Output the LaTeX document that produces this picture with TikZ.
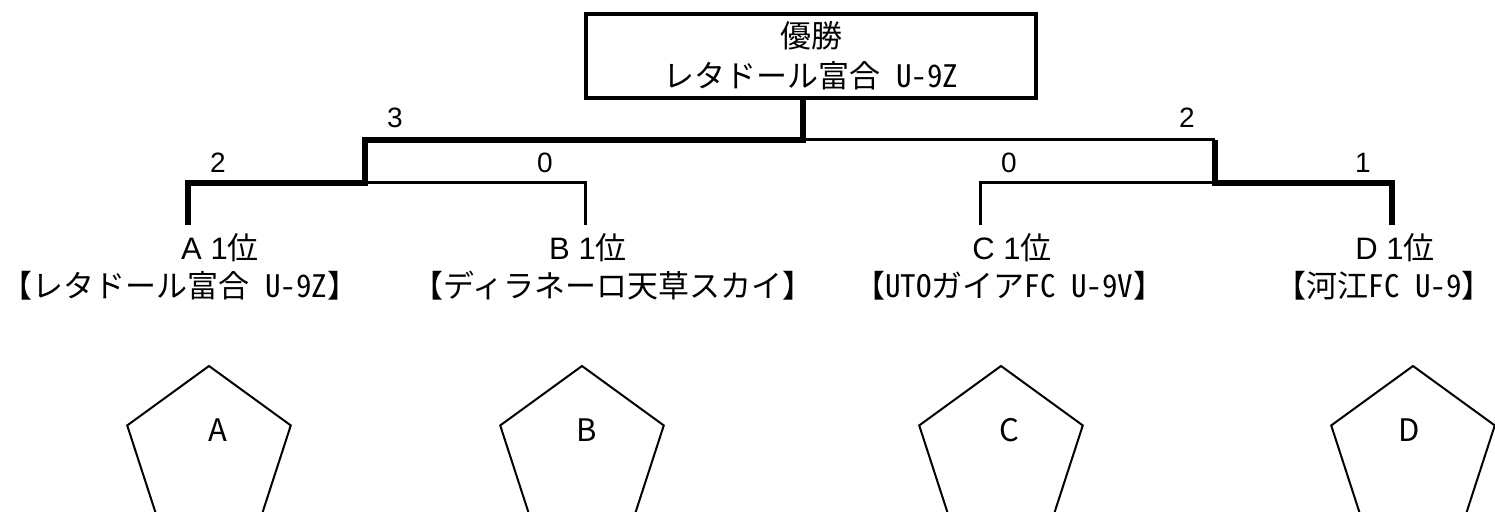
\documentclass[tikz,border=0pt]{standalone}
\usepackage{fontspec}
\setmainfont{Noto Sans CJK JP}
\newfontfamily\arialfont{Liberation Sans}
\newfontfamily\halffont{Noto Sans CJK JP}[CharacterWidth=Half]
\usetikzlibrary{shapes.geometric}
\begin{document}
\begin{tikzpicture}[x=0.5pt, y=-0.5pt,
  win/.style={line width=3pt},
  lose/.style={line width=1.5pt},
  score/.style={font=\fontsize{14}{16}\arialfont},
  head/.style={font=\fontsize{15.5}{21}\selectfont, inner sep=0pt},
  pent/.style={draw, line width=1pt, regular polygon, regular polygon sides=5, minimum size=86pt, inner sep=0pt}]
\useasboundingbox (0,0) rectangle (1495,512);
\clip (0,0) rectangle (1495,512);
\node (final) at (811,56) [draw, line width=1.75pt, minimum width=225pt, minimum height=42pt, align=center, head] {優勝\\[-1pt]レタドール富合{\halffont\ U-9Z}};
\coordinate (fin) at (803,140);
\coordinate (sl) at (365,140);
\coordinate (sr) at (1215,140);
\coordinate (ml) at (365,183);
\coordinate (mr) at (1215,183);
\coordinate (a) at (188,225);
\coordinate (b) at (585,225);
\coordinate (c) at (980,225);
\coordinate (d) at (1392,225);
\draw [win] (final.south -| fin) -- (fin) -- (sl) -- (ml) -- (ml -| a) -- (a);
\draw [lose] (ml) -- (ml -| b) -- (b);
\draw [lose] (fin) -- (sr);
\draw [win] (sr) -- (mr) -- (mr -| d) -- (d);
\draw [lose] (mr) -- (mr -| c) -- (c);
\node (s3) at (395,118) [score] {3};
\node (s2) at (1187,118) [score] {2};
\node (sA) at (218,163) [score] {2};
\node (sB) at (545,163) [score] {0};
\node (sC) at (1009,163) [score] {0};
\node (sD) at (1363,163) [score] {1};
\node (hA) at (220,248) [head] {{\arialfont A 1}位};
\node (nA) at (180,286) [head] {【レタドール富合{\halffont\ U-9Z}】};
\node (hB) at (588,248) [head] {{\arialfont B 1}位};
\node (nB) at (613,286) [head] {【ディラネーロ天草スカイ】};
\node (hC) at (1012,248) [head] {{\arialfont C 1}位};
\node (nC) at (1009,286) [head] {【{\halffont UTO}ガイア{\halffont FC U-9V}】};
\node (hD) at (1395,248) [head] {{\arialfont D 1}位};
\node (nD) at (1384,286) [head] {【河江{\halffont FC U-9}】};
\node (pA) at (209,452) [pent] {};
\node (pB) at (582,452) [pent] {};
\node (pC) at (1001,452) [pent] {};
\node (pD) at (1413,452) [pent] {};
\node (lA) at (218,430) [head] {A};
\node (lB) at (587,430) [head] {B};
\node (lC) at (1009,430) [head] {C};
\node (lD) at (1409,430) [head] {D};
\end{tikzpicture}
\end{document}
